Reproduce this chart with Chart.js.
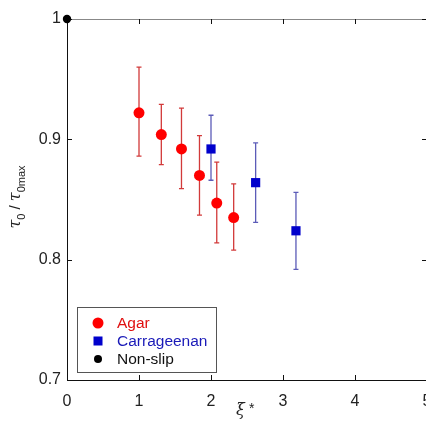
<!DOCTYPE html>
<html>
<head>
<meta charset="utf-8">
<script src="https://cdn.jsdelivr.net/npm/chart.js@4.4.1/dist/chart.umd.min.js"></script>
<style>
  html, body { margin: 0; padding: 0; background: #fff; overflow: hidden; }
  #wrap { width: 440px; height: 429px; }
</style>
</head>
<body>
<div id="wrap"><canvas id="chart" width="440" height="429"></canvas></div>
<script>
// values
const agarX = [1.00, 1.31, 1.59, 1.84, 2.08, 2.315];
const agarY = [0.922, 0.904, 0.892, 0.870, 0.847, 0.835];
const agarLow = [0.886, 0.879, 0.859, 0.837, 0.814, 0.808];
const agarHigh = [0.960, 0.929, 0.926, 0.903, 0.881, 0.863];

const carrX = [2.00, 2.62, 3.18];
const carrY = [0.892, 0.864, 0.824];
const carrLow = [0.866, 0.831, 0.792];
const carrHigh = [0.920, 0.897, 0.856];

const nonSlipX = [0];
const nonSlipY = [1.0];

const xTicks = [0, 1, 2, 3, 4, 5];
const yTicks = [0.7, 0.8, 0.9, 1.0];

const FONT = "Arial, 'Liberation Sans', sans-serif";

const toPoints = (xs, ys) => xs.map((x, i) => ({ x, y: ys[i] }));

const errorBars = {
  id: "errorBars",
  beforeDatasetsDraw(chart) {
    const { ctx, scales: { x, y } } = chart;
    const sets = [
      { xs: agarX, lo: agarLow, hi: agarHigh, color: "#d23a3a" },
      { xs: carrX, lo: carrLow, hi: carrHigh, color: "#5c5cb8" }
    ];
    ctx.save();
    ctx.lineWidth = 1.3;
    for (const s of sets) {
      ctx.strokeStyle = s.color;
      s.xs.forEach((xv, i) => {
        const px = x.getPixelForValue(xv);
        const p1 = y.getPixelForValue(s.lo[i]);
        const p2 = y.getPixelForValue(s.hi[i]);
        ctx.beginPath();
        ctx.moveTo(px, p1); ctx.lineTo(px, p2);
        ctx.moveTo(px - 2.5, p1); ctx.lineTo(px + 2.5, p1);
        ctx.moveTo(px - 2.5, p2); ctx.lineTo(px + 2.5, p2);
        ctx.stroke();
      });
    }
    ctx.restore();
  }
};

// MATLAB-style box with inward ticks, titles and legend
const frame = {
  id: "frame",
  beforeDatasetsDraw(chart) {
    const { ctx, chartArea: a, scales: { x, y } } = chart;
    ctx.save();
    ctx.lineWidth = 1;
    ctx.strokeStyle = "#888";
    ctx.beginPath();
    ctx.moveTo(a.left, a.top + 0.5); ctx.lineTo(a.right, a.top + 0.5);
    ctx.moveTo(a.right - 0.5, a.top); ctx.lineTo(a.right - 0.5, a.bottom);
    ctx.stroke();
    ctx.strokeStyle = "#111";
    ctx.beginPath();
    ctx.moveTo(a.left + 0.5, a.top); ctx.lineTo(a.left + 0.5, a.bottom);
    ctx.moveTo(a.left, a.bottom + 0.5); ctx.lineTo(a.right, a.bottom + 0.5);
    for (const t of xTicks) {
      const px = Math.round(x.getPixelForValue(t)) + 0.5;
      ctx.moveTo(px, a.bottom); ctx.lineTo(px, a.bottom - 5);
      ctx.moveTo(px, a.top); ctx.lineTo(px, a.top + 5);
    }
    for (const t of yTicks) {
      const py = Math.round(y.getPixelForValue(t)) + 0.5;
      ctx.moveTo(a.left, py); ctx.lineTo(a.left + 5, py);
      ctx.moveTo(a.right, py); ctx.lineTo(a.right - 5, py);
    }
    ctx.stroke();
    ctx.restore();
  },
  afterDraw(chart) {
    const { ctx } = chart;
    ctx.save();
    ctx.fillStyle = "#222";
    ctx.textBaseline = "alphabetic";

    // x title: ξ *
    ctx.font = "italic 16px 'DejaVu Serif', serif";
    ctx.textAlign = "left";
    ctx.fillText("\u03be", 236, 415);
    ctx.font = "14px " + FONT;
    ctx.fillText("*", 249, 413);

    // y title: τ0 / τ0max, rotated
    ctx.translate(20, 197);
    ctx.rotate(-Math.PI / 2);
    const parts = [
      { t: "\u03c4", f: "italic 16px 'DejaVu Serif', serif", dy: 0 },
      { t: "0", f: "11px " + FONT, dy: 5 },
      { t: " / ", f: "15px " + FONT, dy: 0 },
      { t: "\u03c4", f: "italic 16px 'DejaVu Serif', serif", dy: 0 },
      { t: "0max", f: "11px " + FONT, dy: 5 }
    ];
    let total = 0;
    for (const p of parts) { ctx.font = p.f; total += ctx.measureText(p.t).width; }
    let cx = -total / 2;
    for (const p of parts) {
      ctx.font = p.f;
      ctx.fillText(p.t, cx, p.dy);
      cx += ctx.measureText(p.t).width;
    }
    ctx.restore();

    // legend box
    ctx.save();
    ctx.fillStyle = "#fff";
    ctx.strokeStyle = "#555";
    ctx.lineWidth = 1;
    ctx.fillRect(77, 307, 139, 65);
    ctx.strokeRect(77.5, 307.5, 139, 65);
    const items = [
      { label: "Agar", color: "#ff0000", text: "#e01010", shape: "circle", r: 5.5, y: 323 },
      { label: "Carrageenan", color: "#0000cc", text: "#1a1ab8", shape: "square", r: 4.5, y: 341 },
      { label: "Non-slip", color: "#000", text: "#111", shape: "circle", r: 4, y: 359 }
    ];
    ctx.font = "15.5px " + FONT;
    ctx.textBaseline = "middle";
    ctx.textAlign = "left";
    for (const it of items) {
      ctx.fillStyle = it.color;
      if (it.shape === "circle") {
        ctx.beginPath(); ctx.arc(98, it.y, it.r, 0, Math.PI * 2); ctx.fill();
      } else {
        ctx.fillRect(98 - it.r, it.y - it.r, it.r * 2, it.r * 2);
      }
      ctx.fillStyle = it.text;
      ctx.fillText(it.label, 117, it.y + 1);
    }
    ctx.restore();
  }
};

new Chart(document.getElementById("chart"), {
  type: "scatter",
  data: {
    datasets: [
      { label: "Agar", data: toPoints(agarX, agarY), pointStyle: "circle", pointRadius: 5.5, backgroundColor: "#ff0000", borderColor: "#ff0000", borderWidth: 0 },
      { label: "Carrageenan", data: toPoints(carrX, carrY), pointStyle: "rect", pointRadius: 6.5, backgroundColor: "#0000cc", borderColor: "#0000cc", borderWidth: 0 },
      { label: "Non-slip", data: toPoints(nonSlipX, nonSlipY), pointStyle: "circle", pointRadius: 4.2, backgroundColor: "#000", borderColor: "#000", borderWidth: 0, clip: false }
    ]
  },
  options: {
    responsive: false,
    animation: false,
    events: [],
    layout: { padding: { top: 19, right: 13, left: 0, bottom: 0 } },
    plugins: { legend: { display: false }, tooltip: { enabled: false } },
    scales: {
      x: {
        type: "linear", min: 0, max: 5,
        afterFit: (s) => { s.height = 49; s.paddingLeft = 0; s.paddingRight = 0; },
        afterBuildTicks: (s) => { s.ticks = xTicks.map((v) => ({ value: v })); },
        grid: { display: false, drawTicks: false },
        border: { display: false },
        ticks: { padding: 12, color: "#222", font: { family: FONT, size: 16 }, callback: (v) => String(v) }
      },
      y: {
        type: "linear", min: 0.7, max: 1.0,
        afterFit: (s) => { s.width = 67; s.paddingTop = 0; s.paddingBottom = 0; },
        afterBuildTicks: (s) => { s.ticks = yTicks.map((v) => ({ value: v })); },
        grid: { display: false, drawTicks: false },
        border: { display: false },
        ticks: { padding: 6, color: "#222", font: { family: FONT, size: 16 }, callback: (v) => (v === 1 ? "1" : v.toFixed(1)) }
      }
    }
  },
  plugins: [errorBars, frame]
});
</script>
</body>
</html>
